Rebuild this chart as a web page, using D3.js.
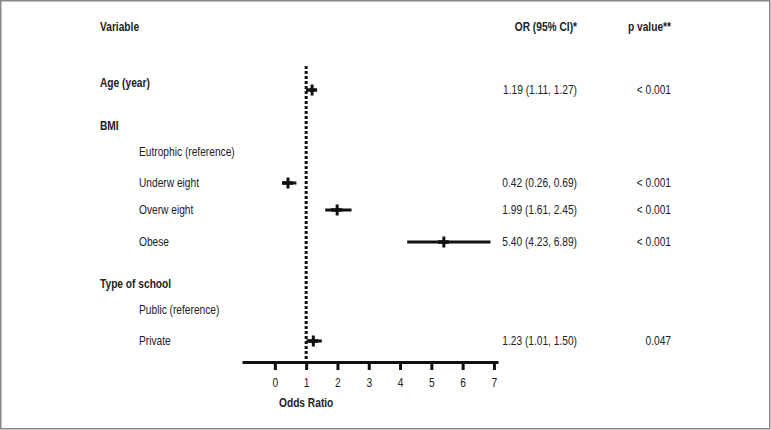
<!DOCTYPE html>
<html>
<head>
<meta charset="utf-8">
<script src="https://cdn.jsdelivr.net/npm/d3@7"></script>
<style>
body { margin: 0; background: #fff; }
text { font-family: "Liberation Sans", Arial, sans-serif; fill: #222; font-size: 12px; }
.bold { font-weight: bold; }
</style>
</head>
<body>
<script>
//DATA
var rowLabels = ["Age (year)", "BMI", "Eutrophic (reference)", "Underw eight", "Overw eight", "Obese", "Type of school", "Public (reference)", "Private"];
var headerRows = ["Age (year)", "BMI", "Type of school"]; // bold group labels

var estRows = ["Age (year)", "Underw eight", "Overw eight", "Obese", "Private"];
var orValue = [1.19, 0.42, 1.99, 5.40, 1.23];
var ciLow = [1.11, 0.26, 1.61, 4.23, 1.01];
var ciHigh = [1.27, 0.69, 2.45, 6.89, 1.50];
var ciText = ["1.19 (1.11, 1.27)", "0.42 (0.26, 0.69)", "1.99 (1.61, 2.45)", "5.40 (4.23, 6.89)", "1.23 (1.01, 1.50)"];
var pText = ["< 0.001", "< 0.001", "< 0.001", "< 0.001", "0.047"];

var xTicks = [0, 1, 2, 3, 4, 5, 6, 7];
var refValue = 1;
//////////////////////

var W = 771, H = 430;
var SX = 0.85; //narrow look of the original typeface

var svg = d3.select("body").append("svg")
  .attr("width", W)
  .attr("height", H);

//frame
svg.append("rect")
  .attr("x", 0.75).attr("y", 0.75)
  .attr("width", W - 2).attr("height", H - 2)
  .attr("fill", "white")
  .attr("stroke", "#888")
  .attr("stroke-width", 1.5);

//narrow text helper: positions by transform, squeezes horizontally
function put(sel, x, y) {
  sel.attr("transform", function(d, i) {
    var xx = typeof x === "function" ? x(d, i) : x;
    var yy = typeof y === "function" ? y(d, i) : y;
    return "translate(" + xx + "," + yy + ") scale(" + SX + ",1)";
  }).attr("dy", "0.35em");
  return sel;
}

//row positions (layout only)
var labelY = d3.scaleOrdinal().domain(rowLabels)
  .range([83, 126, 152, 183, 210, 242, 284, 310, 341]);
var dataY = d3.scaleOrdinal().domain(estRows)
  .range([90, 183, 210, 242, 341]);
var subIndent = ["Eutrophic (reference)", "Underw eight", "Overw eight", "Obese", "Public (reference)", "Private"];

var x = d3.scaleLinear().domain([-1.05, 7.13]).range([242, 498]);
var axisY = 362;

//HEADERS
put(svg.append("text").attr("class", "bold").text("Variable"), 100, 27);
put(svg.append("text").attr("class", "bold").attr("text-anchor", "end").text("OR (95% CI)*"), 577, 27);
put(svg.append("text").attr("class", "bold").attr("text-anchor", "end").text("p value**"), 671, 27);

//ROW LABELS
put(svg.selectAll("text.rowlab").data(rowLabels).enter().append("text")
  .attr("class", function(d) { return headerRows.indexOf(d) >= 0 ? "rowlab bold" : "rowlab"; })
  .text(function(d) { return d; }),
  function(d) { return subIndent.indexOf(d) >= 0 ? 139 : 100; },
  function(d) { return labelY(d); });

//REFERENCE LINE
svg.append("line")
  .attr("x1", x(refValue)).attr("x2", x(refValue))
  .attr("y1", 66).attr("y2", axisY)
  .attr("stroke", "#111")
  .attr("stroke-width", 3)
  .attr("stroke-dasharray", "3,2");

//AXIS
var axis = d3.axisBottom(x).tickValues(xTicks).tickSize(8).tickSizeOuter(0).tickPadding(8);
var gAxis = svg.append("g").attr("transform", "translate(0," + axisY + ")").call(axis);
gAxis.select(".domain").attr("stroke", "#111").attr("stroke-width", 3);
gAxis.selectAll(".tick line").attr("stroke", "#111").attr("stroke-width", 3);
gAxis.selectAll(".tick text")
  .style("font-family", "'Liberation Sans', Arial, sans-serif")
  .style("font-size", "12px").attr("fill", "#222")
  .attr("transform", "scale(" + SX + ",1)")
  .attr("x", function() { return 0; });

put(svg.append("text").attr("class", "bold").attr("text-anchor", "middle").text("Odds Ratio"), x(1), 403);

//ESTIMATES
var est = estRows.map(function(r, i) {
  return { row: r, or: orValue[i], lo: ciLow[i], hi: ciHigh[i], ci: ciText[i], p: pText[i] };
});

var g = svg.selectAll("g.est").data(est).enter().append("g").attr("class", "est");

//CI line
g.append("line")
  .attr("x1", function(d) { return x(d.lo); })
  .attr("x2", function(d) { return x(d.hi); })
  .attr("y1", function(d) { return dataY(d.row); })
  .attr("y2", function(d) { return dataY(d.row); })
  .attr("stroke", "#111").attr("stroke-width", 3);
//point marker (cross)
g.append("line")
  .attr("x1", function(d) { return x(d.or) - 6; })
  .attr("x2", function(d) { return x(d.or) + 5; })
  .attr("y1", function(d) { return dataY(d.row); })
  .attr("y2", function(d) { return dataY(d.row); })
  .attr("stroke", "#111").attr("stroke-width", 3.5);
g.append("line")
  .attr("x1", function(d) { return x(d.or); })
  .attr("x2", function(d) { return x(d.or); })
  .attr("y1", function(d) { return dataY(d.row) - 5.5; })
  .attr("y2", function(d) { return dataY(d.row) + 5.5; })
  .attr("stroke", "#111").attr("stroke-width", 3);

//OR text and p value
put(g.append("text").attr("text-anchor", "end").text(function(d) { return d.ci; }),
  577, function(d) { return dataY(d.row); });
put(g.append("text").attr("text-anchor", "end").text(function(d) { return d.p; }),
  671, function(d) { return dataY(d.row); });
</script>
</body>
</html>
